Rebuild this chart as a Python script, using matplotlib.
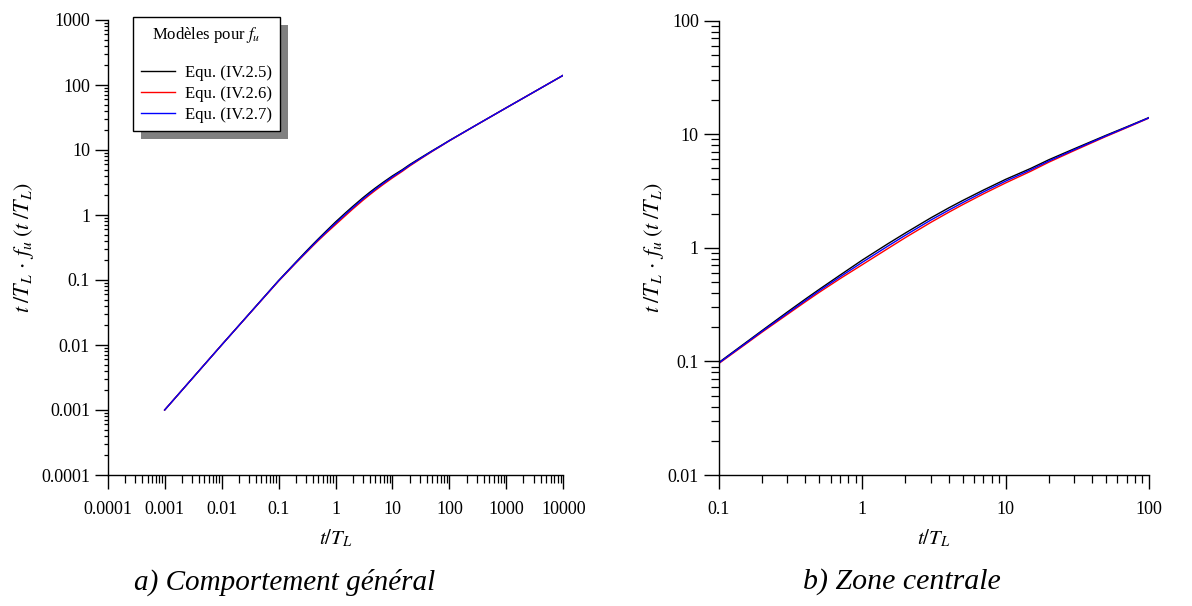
import matplotlib
matplotlib.use("Agg")
import matplotlib.pyplot as plt
from matplotlib.patches import Rectangle
from matplotlib.lines import Line2D
from matplotlib.ticker import FixedLocator, FixedFormatter, LogLocator, NullFormatter

plt.rcParams['font.family'] = ['Liberation Serif', 'DejaVu Serif']
plt.rcParams['mathtext.fontset'] = 'stix'

# ---- data ----
t_vals = [0.001, 0.01, 0.1, 0.15, 0.2, 0.3, 0.4, 0.5, 0.7, 1, 1.5, 2, 3, 4, 5, 7,
          10, 15, 20, 30, 50, 70, 100, 300, 1000, 3000, 10000]
y_eq25 = [0.001, 0.01, 0.098, 0.143, 0.187, 0.272, 0.353, 0.43, 0.575, 0.78, 1.08, 1.35,
          1.83, 2.24, 2.6, 3.22, 4.0, 5.0, 5.95, 7.42, 9.75, 11.6, 14.0, 24.4, 44.7, 77.4, 141.4]
y_eq26 = [0.001, 0.01, 0.096, 0.139, 0.181, 0.259, 0.334, 0.405, 0.535, 0.71, 0.98, 1.23,
          1.67, 2.05, 2.39, 2.98, 3.72, 4.72, 5.66, 7.15, 9.52, 11.4, 13.85, 24.3, 44.6, 77.3, 141.3]
y_eq27 = [0.001, 0.01, 0.097, 0.141, 0.184, 0.265, 0.343, 0.418, 0.555, 0.745, 1.03, 1.29,
          1.75, 2.14, 2.49, 3.1, 3.86, 4.86, 5.8, 7.28, 9.63, 11.5, 13.92, 24.35, 44.65, 77.35, 141.35]

series_labels = ["Equ. (IV.2.5)", "Equ. (IV.2.6)", "Equ. (IV.2.7)"]
series_colors = ["#000000", "#ff0000", "#0000ff"]
legend_title = r"Modèles pour $f_u$"

xticks_a = [1e-4, 1e-3, 1e-2, 1e-1, 1, 10, 100, 1000, 10000]
xticklabels_a = ["0.0001", "0.001", "0.01", "0.1", "1", "10", "100", "1000", "10000"]
yticks_a = [1e-4, 1e-3, 1e-2, 1e-1, 1, 10, 100, 1000]
yticklabels_a = ["0.0001", "0.001", "0.01", "0.1", "1", "10", "100", "1000"]
xticks_b = [0.1, 1, 10, 100]
xticklabels_b = ["0.1", "1", "10", "100"]
yticks_b = [0.01, 0.1, 1, 10, 100]
yticklabels_b = ["0.01", "0.1", "1", "10", "100"]

xlabel = r"$t/T_L$"
ylabel = r"$t\;/T_L\,\cdot\,f_u\;(t\;/T_L)$"
caption_a = "a) Comportement général"
caption_b = "b) Zone centrale"

W, H = 1192, 606
fig = plt.figure(figsize=(W / 100, H / 100), dpi=100)
fig.patch.set_facecolor("white")

def px_axes(x0, x1, ytop, ybot):
    return [x0 / W, 1 - ybot / H, (x1 - x0) / W, (ybot - ytop) / H]

ax1 = fig.add_axes(px_axes(107.7, 563.3, 20, 475))
ax2 = fig.add_axes(px_axes(719, 1149, 20.5, 475))

ys = [y_eq25, y_eq26, y_eq27]

def style(ax, xt, xtl, yt, ytl, ymin_len, ymaj_len, ylabpad):
    ax.set_xscale("log")
    ax.set_yscale("log")
    for s in ("top", "right"):
        ax.spines[s].set_visible(False)
    for s in ("left", "bottom"):
        ax.spines[s].set_linewidth(1.0)
        ax.spines[s].set_color("black")
    ax.xaxis.set_major_locator(FixedLocator(xt))
    ax.xaxis.set_major_formatter(FixedFormatter(xtl))
    ax.yaxis.set_major_locator(FixedLocator(yt))
    ax.yaxis.set_major_formatter(FixedFormatter(ytl))
    ax.xaxis.set_minor_locator(LogLocator(base=10, subs=range(2, 10), numticks=50))
    ax.yaxis.set_minor_locator(LogLocator(base=10, subs=range(2, 10), numticks=50))
    ax.xaxis.set_minor_formatter(NullFormatter())
    ax.yaxis.set_minor_formatter(NullFormatter())
    ax.tick_params(axis="x", which="major", direction="out", length=10, width=1, labelsize=13, pad=8.5)
    ax.tick_params(axis="x", which="minor", direction="out", length=6, width=0.9)
    ax.tick_params(axis="y", which="major", direction="out", length=ymaj_len, width=1, labelsize=13, pad=3.5)
    ax.tick_params(axis="y", which="minor", direction="out", length=ymin_len, width=0.9)
    ax.set_xlabel(xlabel, fontsize=15, labelpad=7)
    ax.set_ylabel(ylabel, fontsize=16, labelpad=ylabpad)
    ax.patch.set_visible(False)

# panel a
for y, lab, c in zip(ys, series_labels, series_colors):
    ax1.plot(t_vals, y, color=c, lw=1.0, label=lab)
style(ax1, xticks_a, xticklabels_a, yticks_a, yticklabels_a, 3.2, 9.2, 4)
ax1.set_xlim(1e-4, 1e4)
ax1.set_ylim(1e-4, 1e3)

# panel b
for y, lab, c in zip(ys, series_labels, series_colors):
    ax2.plot(t_vals, y, color=c, lw=1.0, label=lab)
style(ax2, xticks_b, xticklabels_b, yticks_b, yticklabels_b, 5.5, 11, 1.5)
ax2.set_xlim(0.1, 100)
ax2.set_ylim(0.01, 100)

# legend
handles = [Line2D([], [], color=c, lw=1.0) for c in series_colors]
leg = ax1.legend(handles, series_labels, title=legend_title + "\n",
                 loc="upper left", bbox_to_anchor=(133 / W, 1 - 17 / H),
                 bbox_transform=fig.transFigure, borderaxespad=0,
                 fontsize=12, title_fontsize=12, frameon=True, fancybox=False,
                 edgecolor="black", framealpha=1, labelspacing=0.3,
                 handlelength=2.0, handletextpad=0.6, borderpad=0.5)
leg.get_frame().set_linewidth(1.0)
leg.set_zorder(6)
leg.get_title().set_linespacing(0.9)

fig.canvas.draw()
bb = leg.get_window_extent()
inv = ax1.transAxes.inverted()
(x0, y0), (x1, y1) = inv.transform([[bb.x0 + 8, bb.y0 - 8], [bb.x1 + 8, bb.y1 - 8]])
shadow = Rectangle((x0, y0), x1 - x0, y1 - y0, transform=ax1.transAxes,
                   facecolor="#808080", edgecolor="none", zorder=5.5, clip_on=False)
ax1.add_patch(shadow)

fig.text(285 / W, 1 - 582 / H, caption_a, ha="center", va="center",
         fontsize=21, style="italic")
fig.text(902 / W, 1 - 582 / H, caption_b, ha="center", va="center",
         fontsize=21.5, style="italic")

fig.savefig("out.png", dpi=100, facecolor="white")
